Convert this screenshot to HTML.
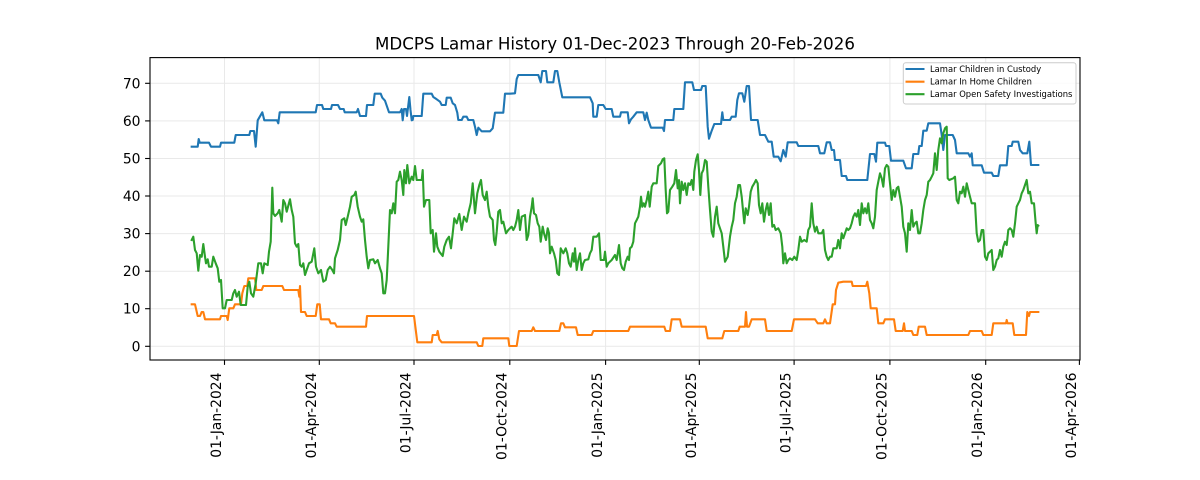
<!DOCTYPE html>
<html><head><meta charset="utf-8"><style>
html,body{margin:0;padding:0;background:#fff;}
svg{display:block;font-family:"DejaVu Sans","Liberation Sans",sans-serif;}
</style></head><body>
<svg width="1200" height="480" viewBox="0 0 1200 480" xmlns="http://www.w3.org/2000/svg">
<rect width="1200" height="480" fill="#fff"/>
<g stroke="#e9e9e9" stroke-width="1">
<line x1="150" x2="1080" y1="346.3" y2="346.3"/>
<line x1="150" x2="1080" y1="308.7" y2="308.7"/>
<line x1="150" x2="1080" y1="271.2" y2="271.2"/>
<line x1="150" x2="1080" y1="233.6" y2="233.6"/>
<line x1="150" x2="1080" y1="196.0" y2="196.0"/>
<line x1="150" x2="1080" y1="158.5" y2="158.5"/>
<line x1="150" x2="1080" y1="120.9" y2="120.9"/>
<line x1="150" x2="1080" y1="83.3" y2="83.3"/>
<line y1="57.6" y2="360" x1="224.5" x2="224.5"/>
<line y1="57.6" y2="360" x1="319.3" x2="319.3"/>
<line y1="57.6" y2="360" x1="414" x2="414"/>
<line y1="57.6" y2="360" x1="509.8" x2="509.8"/>
<line y1="57.6" y2="360" x1="605.6" x2="605.6"/>
<line y1="57.6" y2="360" x1="699.3" x2="699.3"/>
<line y1="57.6" y2="360" x1="794.1" x2="794.1"/>
<line y1="57.6" y2="360" x1="889.9" x2="889.9"/>
<line y1="57.6" y2="360" x1="985.7" x2="985.7"/>
</g>
<g fill="none" stroke-width="2.1" stroke-linejoin="round" stroke-linecap="square">
<polyline stroke="#1f77b4" points="191.7,146.7 197.7,146.7 198.7,139 199.7,142.7 209,142.7 211,146.7 220,146.7 221,142.7 234.3,142.7 235.7,135 249.3,135 250.3,131 254,131 255.7,146.7 257.7,120.3 262.3,112.3 264.3,120.3 277,120.3 278.3,123.3 279.7,112.3 315.7,112.3 317,105 322,105 323.3,109 331,109 332,105 338,105 340,109 343.7,109 344.7,112.3 356.7,112.3 358,109 360,116 366,116 367,105 373.3,105 374.7,93.7 380.7,93.7 382.3,97.7 385,100.7 389,112.3 400,112.3 401.7,109 402.7,120.3 404,109 406,109 407,116 409.3,97 410.5,110 411.7,120.3 412.7,120 413.3,116 421.7,116 423.3,93.7 431.7,93.7 433.3,97 436.7,99.3 440,101.7 441.7,105 445.7,105 446.7,97.7 450.7,97.7 452.7,103.3 455,105 457.3,112.7 458.3,120 461.7,120 463.3,116.7 466.7,116.7 468.3,120 473.3,120 475,126.7 476.7,135 478.3,127.7 481.7,131.3 490,131.3 492.7,128.3 495,112.7 503.3,112.7 505,93.7 510,93.7 515,93.3 516.7,79 518.3,75 538.3,75 540.7,82.3 542.3,71 546,71 547.3,82.3 553.3,82.3 555,71 557.3,71 559.3,82.3 562.3,97.3 590,97.3 592.7,103.3 593.3,116.7 596.7,116.7 598.3,105 603.3,105 605.7,109 611.7,109 613.3,116.7 620,116.7 621,112.3 627.7,112.3 629,123.3 631,119.3 633.3,116.7 636.7,112.3 643.3,112.3 645,120 646.7,112.7 648.3,120 651,127.7 662.7,127.7 664,131 665,120 673.3,120 674.3,109 683.3,109 685,82.3 692.3,82.3 694,90 701,90 702.3,86 705.7,86 707.7,126.7 709,138.7 711.7,130.7 714.3,124 721,124 722.3,112.3 723.3,120 730,120 731.7,116.7 735.7,116.7 737.3,100 739,93.3 742.3,93.3 744.3,101.7 746.7,86 749,86 751,120 757.7,120 760,135 765,135 768.3,141.7 771.7,141.7 773.7,156.7 778.3,156.7 780.7,161.3 783.3,150 785.7,156.7 787.7,142.3 796.7,142.3 798.3,146 818.3,146 820,153.3 824.3,153.3 826.7,142.3 830,142.3 831.7,150 834,150 835,160 840,160 841.7,176 846,176 847.3,180 867.3,180 870,154 874.3,154 876,161.7 877.3,142.7 885,142.7 886,146 889.3,146 891,160.7 903.3,160.7 906,168.3 911.7,168.3 913.3,154 918.3,154 919.3,146 921.7,146 923.3,130.7 926.7,130.7 928.3,123.3 940,123.3 941.7,135 943.3,150 945,135 952.7,135 955,140 956.7,153.3 968.3,153.3 970,156.7 971.7,153.3 972.7,165.3 981.7,165.3 984,172.7 991.7,172.7 993.3,176 998.3,176 1000,165.3 1006.7,165.3 1008.3,146 1011.7,146 1012.7,141.7 1018.3,141.7 1020,150 1022.7,153.3 1027.3,153.3 1029.3,141.7 1031,165 1038.3,165"/>
<polyline stroke="#ff7f0e" points="191.7,304.3 195,304.3 197.7,316 200,316 201.7,312 203.3,312 205,319.3 220,319.3 221,316 226.7,316 227.7,320 229.3,308.3 233.3,308.3 235,304.3 241,304.3 242.3,293.3 244.3,286 247.3,286 248.3,278.3 255,278.3 256.3,290 261.7,290 263.3,286 282.3,286 284,290 298.3,290 299.3,296.7 300,286 301,312 305,312 306.7,316 315.7,316 317.3,304.3 319.7,304.3 321,319.3 329,319.3 330.7,323.3 335,323.3 336.7,326.7 366,326.7 367,316 414,316 417.3,342.3 431.7,342.3 432.7,335 436.7,335 437.7,331 439.3,339.3 441.7,342.3 476.7,342.3 478.3,346 482.3,346 483.3,338.3 508.3,338.3 509.3,346 516.7,346 519,331 531.7,331 533.3,327.3 535,331 559.3,331 561,323.3 563.3,323.3 565,327.3 576,327.3 577.7,335 591.7,335 593.3,331 628.3,331 630,326.7 664.3,326.7 665.7,331 670,331 671.7,319.3 680,319.3 681.7,326.7 705.7,326.7 707.7,338.3 722.3,338.3 724.3,331 738.3,331 739.7,326.7 745,326.7 746,312 747,326.7 749,326.7 751.7,319.3 765,319.3 766.7,331 791.7,331 794,319.3 815,319.3 817.7,323.3 823.3,323.3 825,319.3 826.7,323.3 830,323.3 832.7,304.3 835,304.3 836,290 838.3,282.7 843.3,281.7 851.7,281.7 852.7,286 866,286 867.3,281.7 869.3,293.3 870.7,308.3 876.7,308.3 878.3,323.3 883.3,323.3 885,319.3 894,319.3 895.7,331 902.7,331 904,323.3 905,331 911.7,331 913.3,335 917.3,335 918.7,326.7 925,326.7 926.7,335 968.3,335 970,331 981.7,331 983.3,335 991.7,335 993.3,323.3 1006,323.3 1006.7,320 1007.5,323.3 1012.7,323.3 1014.3,335 1026,335 1027.3,312 1029,316 1030,312 1038.3,312"/>
<polyline stroke="#2ca02c" points="191.7,240 193.3,236.7 195,250 196.7,253.3 198.3,270.7 200,255 201.7,256.7 203.3,244 205,256.7 206,263.3 207.7,259.3 209,266.7 211.7,266.7 213.3,256.7 215.7,263.3 217.7,268.3 219.3,281.7 221,280 222.7,308.3 225,308.3 226.7,300 231.7,300 233.3,293.3 235,290 236.7,296.7 239,291.7 240.7,305 246,305 247.7,286.7 249.3,281.7 251,293.3 253.3,296.7 255.7,283.3 258.3,263.3 261,263.3 262.7,273.3 264.3,263.3 267.7,265 269,251.7 270.7,241.7 272.3,187.7 273.3,213.3 275,216 277.7,213.3 279.3,210 281.7,221.7 283.3,200 285,203.3 286.7,211.7 290,199.3 291.7,210 293.3,216.7 295,243.3 296.7,246.7 298.3,244 300,265 301.7,266.7 303.3,263.3 305,275 306.7,270 309,263.3 311.7,261.7 314.3,248.3 316,266.7 318.3,273.3 321,270 323.3,281.7 325.7,280 327.7,270 330,266.7 332.3,270 334,273.3 335,258.3 337.7,250 340,240 341.7,220 344.3,218.3 345.7,225 347.7,216.7 350,206.7 351.7,196.7 354.3,195 355.7,191.7 357.7,206.7 360,216.7 361.7,221.7 363.3,219.3 365,240 366.7,256.7 368.3,268.3 370,260 373.3,259.3 375,263.3 377.7,260 380,268.3 381.7,273.3 383.3,293.3 385,293.3 386.7,280 388.3,246.7 390,210 391.7,213.3 393.3,203.3 395,213.3 396.7,181.7 398.3,180 400,171.7 401.7,180 403.3,195 404.3,170 406,183.3 407.3,165 409.3,183.3 411.7,176.7 413.3,180 415,166 416.7,180 421.7,180 422.7,170 424,206.7 426,200 429.3,200 430.7,233.3 432.7,230 434,251.7 436,233.3 437.3,246.7 439.3,251.7 442.7,256 444.3,246.7 446.7,240 449,236.7 451,248.3 452.7,233.3 454.3,218.3 456.7,223.3 459.3,214 461.7,230 464,216.7 466.7,221.7 468.3,213.3 470.7,203.3 472.7,183.3 475,213.3 477.3,193.3 479.3,185 481,180 482.7,195 485,200 486.7,191.7 488.3,206.7 490,216.7 492.7,220 494,240 495.3,245 496.7,231.7 498.3,211.7 500,210 501.7,223.3 503.3,221.7 506,233.3 508.3,230 510,228.3 511.7,226.7 513.3,230 515,226.7 516.7,220 518.3,210 520,230 521.7,216.7 525,215 526.7,240 528.3,235 530,216.7 531.7,206.7 532.7,198.3 534,213.3 536,215 537.7,223.3 539.3,226.7 540.7,241.7 542.7,226.7 544,233.3 546,240 547.7,228.3 549,233.3 550,253.3 551.7,246.7 554,253.3 555.7,260 557.3,273.3 559,275 560.7,248.3 563.3,253.3 565.7,248.3 567.3,253.3 569,263.3 570.7,266.7 572.7,253.3 574,261.7 575,248.3 576.7,270 578.3,260 580,253.3 581.7,270 583.3,263.3 585,260 588.3,259.3 590,253.3 591.7,250 593.3,236.7 596.7,236.7 599,233.3 600.7,260 604,260 605,251.7 606.7,266.7 608.3,263.3 611.7,260 615,255 616.7,260 619,245 620.7,263.3 622.3,268.3 624,270 625.7,261.7 627.7,256.7 629,260 630,248.3 631.7,246.7 633.3,241.7 635,223.3 636.7,220 638.3,216.7 640,206.7 641,196.7 642.3,206.7 643.7,203.3 645,206.7 646.7,200 648.3,191.7 649.7,206.7 651.7,186.7 653.3,183.3 656.7,183.3 658.3,166 661,163.3 662.7,159.3 664.3,158.3 665.7,190 667,213.3 668.3,211.7 670,190 672.3,186.7 674.3,183.3 676,170 677.7,188.3 679,180 680,203.3 681.7,181.7 683.3,190 685,183.3 686.7,195 688.3,183.3 690,185 691.7,180 693.3,190 694.3,171.7 696,160 697.7,154.3 699,170 700.3,195 701.7,173.3 703.3,170 705,160 706.7,161.7 708.3,186.7 710,210 711.7,231.7 713.3,236.7 715,216.7 716.7,206.7 718.3,223.3 720,228.3 721.7,233.3 723.3,246.7 725,261.7 727.7,256.7 730,236.7 731.7,226.7 733.3,220 735,203.3 736.7,196.7 738.3,185 740,185 741.7,196.7 743.3,213.3 744.3,223.3 745.7,208.3 747.7,215 749,206.7 750.7,191.7 752.3,186.7 754.3,183.3 756,180 757.7,183.3 759,205 760.7,213.3 762.3,203.3 764,221.7 765.7,210 767.3,203.3 769,215 770.7,203.3 772.3,226.7 774,225 775.7,230 778.3,228.3 780.7,233.3 782.3,246.7 783.3,263.3 785,253.3 786.7,263.3 788.3,260 790,258.3 792.3,260 794.3,256.7 796.7,260 798.3,250 800,236.7 801.7,241.7 804.3,240 806.7,241.7 808.3,230 810,226.7 811.7,203.3 813.3,223.3 815,231.7 816.7,226.7 818.3,233.3 821.7,233.3 823.3,230 825,250 826.7,256.7 828.3,260 830,256.7 831.7,256.7 833.3,248.3 836.7,248.3 838.3,240 840,248.3 841.7,233.3 843.3,238.3 845,233.3 846.7,228.3 848.3,230 850,228.3 851.7,223.3 853.3,216.7 855,213.3 856.7,216.7 858.3,210 860,225 861.7,203.3 863.3,213.3 865,208.3 866.7,213.3 868.3,203.3 870,220 871.7,223.3 873.3,228.3 875,216.7 876.7,190 878.3,181.7 880,173.3 881.7,178.3 883.3,186.7 885,168.3 886.7,165 888.3,166.7 890,183.3 891.7,200 893.3,190 895,196.7 896.7,188.3 898.3,186.7 900,196.7 901.7,206.7 903.3,226.7 905,233.3 906.7,251.7 908.3,223.3 910,230 911.7,210 913.3,226.7 915,223.3 916.7,221.7 918.3,233.3 920,233.3 921.7,223.3 923.3,210 925,200 926.7,195 928.3,181.7 930,180 931.7,176.7 933.3,173.3 935,153.3 936.7,170 938.3,150 940,138.3 941.7,143.3 943.3,133.3 945,128.3 946.7,126.7 947.7,178.3 949.3,180 953.3,178.3 955,176.7 956.7,200 958.3,203.3 960,191.7 961.7,193.3 963.3,186.7 965,196.7 966.7,183.3 968.3,190 970,196.7 971.7,203.3 975,203.3 976.7,233.3 978.3,241.7 980,240 981.7,230 983.3,230 985,256.7 986.7,260 988.3,253.3 990,251.7 991.7,250 993.3,270 995,266.7 996.7,260 998.3,258.3 1000,250 1001.7,256.7 1003.3,246.7 1005,241.7 1006.7,245 1008.3,230 1010,228.3 1011.7,230 1013.3,236.7 1015,223.3 1016.7,206.7 1018.3,203.3 1020,200 1021.7,193.3 1023.3,190 1025,185 1026.7,180 1028.3,193.3 1030,191.7 1031.7,203.3 1034,203.3 1035.7,223.3 1036.7,233.3 1037.7,225 1038.3,225.7"/>
</g>
<rect x="150" y="57.6" width="930" height="302.4" fill="none" stroke="#000" stroke-width="1.1"/>
<g stroke="#000" stroke-width="1.1">
<line x1="145.1" x2="150" y1="346.3" y2="346.3"/>
<line x1="145.1" x2="150" y1="308.7" y2="308.7"/>
<line x1="145.1" x2="150" y1="271.2" y2="271.2"/>
<line x1="145.1" x2="150" y1="233.6" y2="233.6"/>
<line x1="145.1" x2="150" y1="196.0" y2="196.0"/>
<line x1="145.1" x2="150" y1="158.5" y2="158.5"/>
<line x1="145.1" x2="150" y1="120.9" y2="120.9"/>
<line x1="145.1" x2="150" y1="83.3" y2="83.3"/>
<line y1="360" y2="364.9" x1="224.5" x2="224.5"/>
<line y1="360" y2="364.9" x1="319.3" x2="319.3"/>
<line y1="360" y2="364.9" x1="414" x2="414"/>
<line y1="360" y2="364.9" x1="509.8" x2="509.8"/>
<line y1="360" y2="364.9" x1="605.6" x2="605.6"/>
<line y1="360" y2="364.9" x1="699.3" x2="699.3"/>
<line y1="360" y2="364.9" x1="794.1" x2="794.1"/>
<line y1="360" y2="364.9" x1="889.9" x2="889.9"/>
<line y1="360" y2="364.9" x1="985.7" x2="985.7"/>
<line y1="360" y2="364.9" x1="1079.4" x2="1079.4"/>
</g>
<g font-size="13.9" fill="#000" text-anchor="end">
<text x="140.5" y="351.3">0</text>
<text x="140.5" y="313.7">10</text>
<text x="140.5" y="276.2">20</text>
<text x="140.5" y="238.6">30</text>
<text x="140.5" y="201.0">40</text>
<text x="140.5" y="163.5">50</text>
<text x="140.5" y="125.9">60</text>
<text x="140.5" y="88.3">70</text>
<text transform="translate(221,372.5) rotate(-90)">01-Jan-2024</text>
<text transform="translate(315.8,372.5) rotate(-90)">01-Apr-2024</text>
<text transform="translate(410.5,372.5) rotate(-90)">01-Jul-2024</text>
<text transform="translate(506.3,372.5) rotate(-90)">01-Oct-2024</text>
<text transform="translate(602.1,372.5) rotate(-90)">01-Jan-2025</text>
<text transform="translate(695.8,372.5) rotate(-90)">01-Apr-2025</text>
<text transform="translate(790.6,372.5) rotate(-90)">01-Jul-2025</text>
<text transform="translate(886.4,372.5) rotate(-90)">01-Oct-2025</text>
<text transform="translate(982.2,372.5) rotate(-90)">01-Jan-2026</text>
<text transform="translate(1075.9,372.5) rotate(-90)">01-Apr-2026</text>
</g>
<text x="615" y="49.3" font-size="16.67" text-anchor="middle" fill="#000">MDCPS Lamar History 01-Dec-2023 Through 20-Feb-2026</text>
<rect x="903.3" y="62.7" width="172.7" height="41.3" rx="2.5" ry="2.5" fill="#fff" fill-opacity="0.8" stroke="#cccccc" stroke-width="1"/>
<g stroke-width="2.1">
<line x1="905.5" x2="924.5" y1="69" y2="69" stroke="#1f77b4"/>
<line x1="905.5" x2="924.5" y1="81.7" y2="81.7" stroke="#ff7f0e"/>
<line x1="905.5" x2="924.5" y1="94.2" y2="94.2" stroke="#2ca02c"/>
</g>
<g font-size="8.4" fill="#000">
<text x="930" y="72">Lamar Children in Custody</text>
<text x="930" y="84.7">Lamar In Home Children</text>
<text x="930" y="97.2">Lamar Open Safety Investigations</text>
</g>
</svg>
</body></html>
